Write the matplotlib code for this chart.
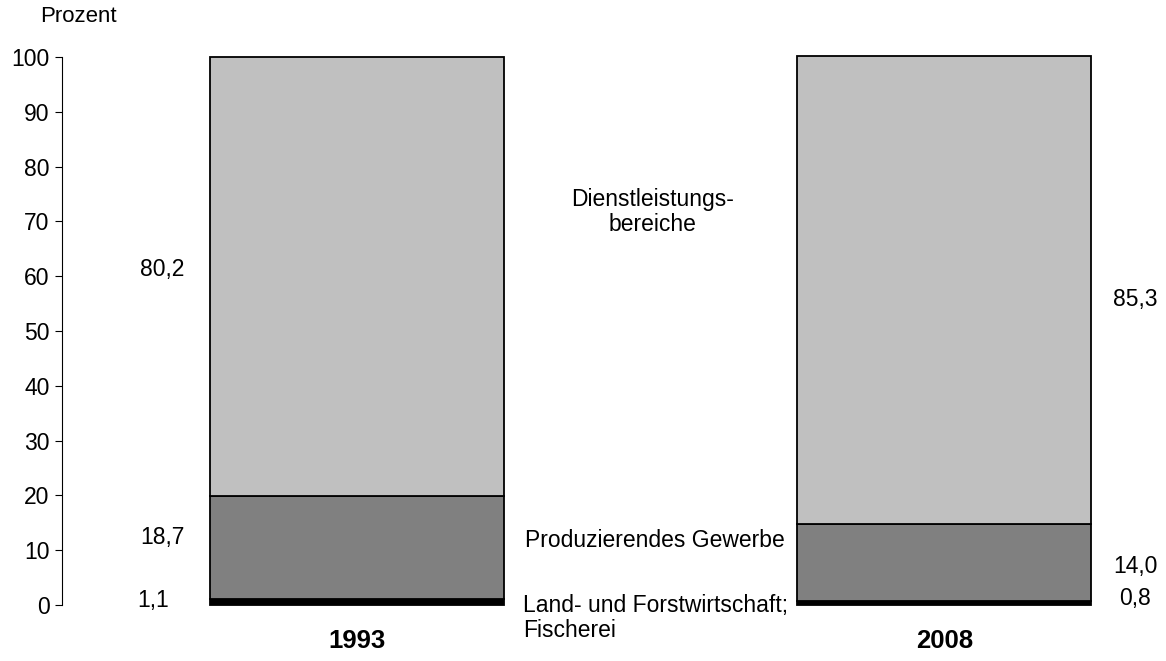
import matplotlib
matplotlib.use("Agg")
import matplotlib.pyplot as plt

years = ["1993", "2008"]
agri = [1.1, 0.8]
industry = [18.7, 14.0]
services = [80.2, 85.3]
yticks = [0, 10, 20, 30, 40, 50, 60, 70, 80, 90, 100]
cat_labels = ["Dienstleistungs-\nbereiche", "Produzierendes Gewerbe",
              "Land- und Forstwirtschaft;\nFischerei"]

def fmt(v):
    return f"{v:.1f}".replace(".", ",")

C0, SCALE = 356.5, 588.0
def px2x(p):
    return (p - C0) / SCALE

plt.rcParams['font.family'] = ['Liberation Sans', 'DejaVu Sans']
fig = plt.figure(figsize=(11.66, 6.61), dpi=100)
ax = fig.add_axes([62/1166, 1-605/661, 1-62/1166, (605-57)/661])

x = [0, 1]
w = 0.5
b1 = ax.bar(x, agri, width=w, color="black", edgecolor="black", linewidth=1.3)
b2 = ax.bar(x, industry, width=w, bottom=agri, color="#808080", edgecolor="black", linewidth=1.3)
bott = [a + b for a, b in zip(agri, industry)]
b3 = ax.bar(x, services, width=w, bottom=bott, color="#C0C0C0", edgecolor="black", linewidth=1.3)
for cont in (b1, b2, b3):
    for p in cont:
        p.set_clip_on(False)

ax.set_xlim(px2x(62), px2x(1166))
ax.set_ylim(0, 100)
ax.set_yticks(yticks)
ax.tick_params(axis='y', labelsize=16.5, length=5, width=0.8, pad=4, direction='out')
ax.set_xticks([])
for s in ["top", "right", "bottom"]:
    ax.spines[s].set_visible(False)
ax.spines["left"].set_linewidth(0.8)

fs = 16.5
# 1993 value labels (left)
ax.text(px2x(162), 61.2, fmt(services[0]), fontsize=fs, ha="center", va="center")
ax.text(px2x(162), 12.4, fmt(industry[0]), fontsize=fs, ha="center", va="center")
ax.text(px2x(153), 0.9, fmt(agri[0]), fontsize=fs, ha="center", va="center")
# 2008 value labels (right)
ax.text(px2x(1135.5), 55.8, fmt(services[1]), fontsize=fs, ha="center", va="center")
ax.text(px2x(1135.5), 7.1, fmt(industry[1]), fontsize=fs, ha="center", va="center")
ax.text(px2x(1135.5), 1.1, fmt(agri[1]), fontsize=fs, ha="center", va="center")

# category labels
ax.text(px2x(653), 71.7, cat_labels[0], fontsize=fs, ha="center", va="center",
        multialignment="center", linespacing=1.1)
ax.text(px2x(525), 11.7, cat_labels[1], fontsize=fs, ha="left", va="center")
ax.text(px2x(523), -2.3, cat_labels[2], fontsize=fs, ha="left", va="center",
        linespacing=1.1, clip_on=False)

for xi, yr in zip(x, years):
    ax.text(xi, -6.5, yr, fontsize=18.5, fontweight="bold", ha="center", va="center", clip_on=False)

fig.text(78/1166, 1-17/661, "Prozent", fontsize=16, ha="center", va="center")

fig.savefig("out.png", dpi=100)
